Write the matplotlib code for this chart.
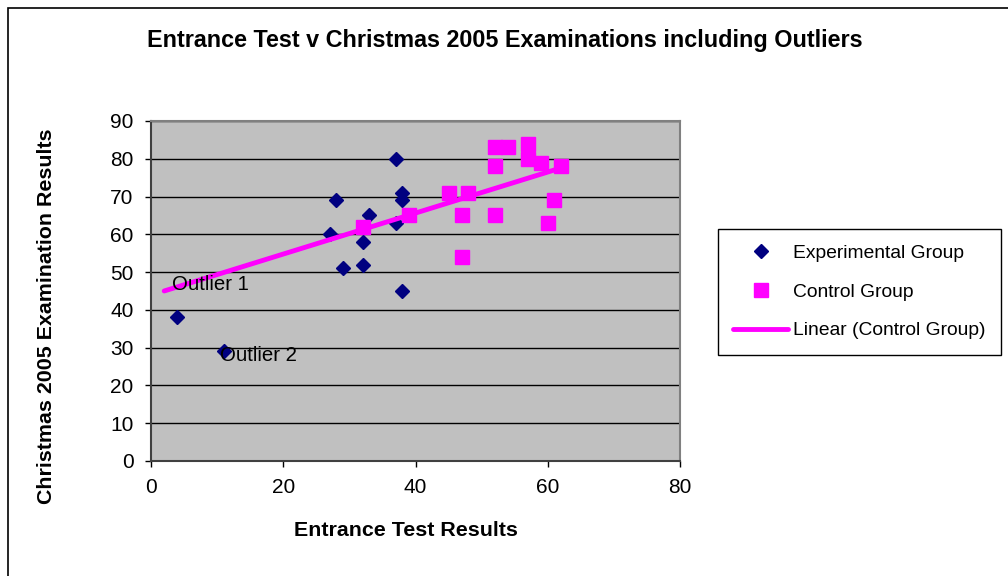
"""
Entrance test vs. Christmas 2005 examination results, including outliers.

Scatter of experimental and control groups with a linear trendline fitted
to the control group, styled after the original spreadsheet chart.
"""

import matplotlib.pyplot as plt
import numpy as np
from matplotlib.axes import Axes
from matplotlib.figure import Figure
from matplotlib.lines import Line2D
from matplotlib.patches import Rectangle


EXPERIMENTAL_ENTRANCE: list[int] = [4, 11, 27, 28, 29, 32, 32, 33, 37, 37, 38, 38, 38]
EXPERIMENTAL_CHRISTMAS: list[int] = [38, 29, 60, 69, 51, 58, 52, 65, 80, 63, 71, 69, 45]

CONTROL_ENTRANCE: list[int] = [32, 39, 45, 48, 47, 47, 52, 54, 52, 52, 57, 57, 59, 62, 61, 60]
CONTROL_CHRISTMAS: list[int] = [62, 65, 71, 71, 65, 54, 83, 83, 78, 65, 84, 80, 79, 78, 69, 63]

# Trendline is extended backwards to this entrance score (spreadsheet "backward forecast")
TREND_START: float = 2.0

OUTLIER_LABELS: list[str] = ["Outlier 1", "Outlier 2"]
OUTLIER_POSITIONS: list[tuple[float, float]] = [(3.2, 46.8), (10.4, 27.8)]

X_TICKS: list[int] = [0, 20, 40, 60, 80]
Y_TICKS: list[int] = list(range(0, 91, 10))

_NAVY: str = "#000080"
_MAGENTA: str = "#FF00FF"
_PLOT_GREY: str = "#C0C0C0"
_FONT: list[str] = ["Liberation Sans", "DejaVu Sans"]

_WIDTH_PX: int = 1008
_HEIGHT_PX: int = 576


def main() -> None:
    plt.rcParams["font.family"] = _FONT
    figure: Figure = _build_figure()
    figure.savefig("out.png", dpi=100)
    plt.close(figure)


def _build_figure() -> Figure:
    figure: Figure = plt.figure(figsize=(_WIDTH_PX / 100, _HEIGHT_PX / 100), dpi=100)
    figure.patch.set_facecolor("white")

    # plot area in pixels: x 151..680, y 121..461
    axis: Axes = figure.add_axes(
        (
            151 / _WIDTH_PX,
            1 - 461 / _HEIGHT_PX,
            (680 - 151) / _WIDTH_PX,
            (461 - 121) / _HEIGHT_PX,
        )
    )
    _plot_scatter(axis)
    _style_axis(axis)
    _add_legend(figure)

    figure.text(
        505 / _WIDTH_PX,
        1 - 40 / _HEIGHT_PX,
        "Entrance Test v Christmas 2005 Examinations including Outliers",
        ha="center",
        va="center",
        fontsize=16.8,
        fontweight="bold",
    )
    figure.text(
        406 / _WIDTH_PX,
        1 - 530 / _HEIGHT_PX,
        "Entrance Test Results",
        ha="center",
        va="center",
        fontsize=15.4,
        fontweight="bold",
    )
    figure.text(
        47 / _WIDTH_PX,
        1 - 316 / _HEIGHT_PX,
        "Christmas 2005 Examination Results",
        ha="center",
        va="center",
        rotation=90,
        fontsize=15.4,
        fontweight="bold",
    )

    # chart border (only the top and left edges fall inside the image)
    figure.patches.append(
        Rectangle(
            (8 / _WIDTH_PX, -0.1),
            1.2,
            1 - 8 / _HEIGHT_PX + 0.1,
            transform=figure.transFigure,
            fill=False,
            edgecolor="black",
            linewidth=1.2,
        )
    )
    return figure


def _plot_scatter(axis: Axes) -> None:
    control_x: np.ndarray = np.asarray(CONTROL_ENTRANCE, dtype=float)
    control_y: np.ndarray = np.asarray(CONTROL_CHRISTMAS, dtype=float)
    slope, intercept = np.polyfit(control_x, control_y, 1)
    trend_x: np.ndarray = np.array([TREND_START, control_x.max()])

    axis.plot(
        EXPERIMENTAL_ENTRANCE,
        EXPERIMENTAL_CHRISTMAS,
        linestyle="none",
        marker="D",
        markersize=7.5,
        color=_NAVY,
        zorder=3,
    )
    axis.plot(
        CONTROL_ENTRANCE,
        CONTROL_CHRISTMAS,
        linestyle="none",
        marker="s",
        markersize=10.5,
        color=_MAGENTA,
        zorder=4,
    )
    axis.plot(
        trend_x,
        slope * trend_x + intercept,
        color=_MAGENTA,
        linewidth=3.5,
        solid_capstyle="round",
        zorder=5,
    )

    for label, (x_pos, y_pos) in zip(OUTLIER_LABELS, OUTLIER_POSITIONS):
        axis.text(x_pos, y_pos, label, ha="left", va="center", fontsize=14.7, zorder=6)


def _style_axis(axis: Axes) -> None:
    axis.set_facecolor(_PLOT_GREY)
    axis.set_xlim(0, 80)
    axis.set_ylim(0, 90)
    axis.set_xticks(X_TICKS)
    axis.set_yticks(Y_TICKS)
    axis.tick_params(
        axis="both",
        direction="out",
        length=4.5,
        width=1,
        color="black",
        labelsize=15,
        pad=8,
    )
    axis.yaxis.grid(True, color="black", linewidth=1)
    axis.xaxis.grid(False)
    axis.set_axisbelow(True)

    for side in ("top", "right"):
        axis.spines[side].set_color("#808080")
        axis.spines[side].set_linewidth(1.5)
    for side in ("left", "bottom"):
        axis.spines[side].set_color("#404040")
        axis.spines[side].set_linewidth(1.5)


def _add_legend(figure: Figure) -> None:
    handles: list[Line2D] = [
        Line2D([], [], linestyle="none", marker="D", markersize=7.5, color=_NAVY),
        Line2D([], [], linestyle="none", marker="s", markersize=10, color=_MAGENTA),
        Line2D([], [], color=_MAGENTA, linewidth=3.5, solid_capstyle="round"),
    ]
    labels: list[str] = [
        "Experimental Group",
        "Control Group",
        "Linear (Control Group)",
    ]
    legend = figure.legend(
        handles,
        labels,
        loc="upper left",
        bbox_to_anchor=(718 / _WIDTH_PX, 1 - 229 / _HEIGHT_PX),
        bbox_transform=figure.transFigure,
        fontsize=13.9,
        frameon=True,
        fancybox=False,
        edgecolor="black",
        framealpha=1,
        handlelength=2.85,
        handletextpad=0.26,
        labelspacing=1.1,
        borderpad=0.8,
        borderaxespad=0,
    )
    legend.get_frame().set_linewidth(1)


if __name__ == "__main__":
    main()
